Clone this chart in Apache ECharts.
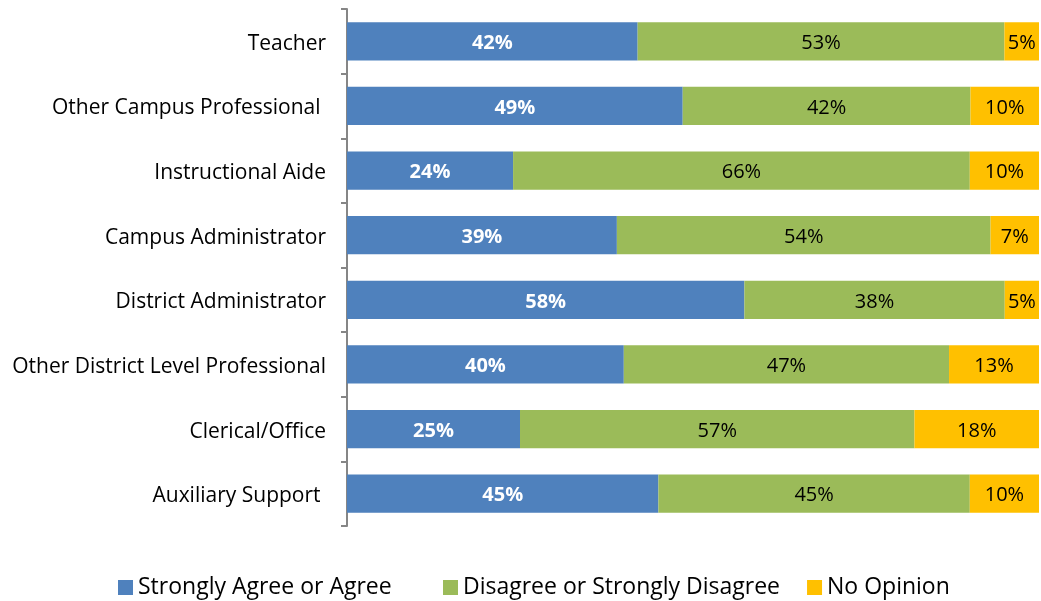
<!DOCTYPE html>
<html>
<head>
<meta charset="utf-8">
<script src="https://cdn.jsdelivr.net/npm/echarts@6/dist/echarts.min.js"></script>
<style>
  html, body { margin: 0; padding: 0; background: #fff; }
  #chart { width: 1041px; height: 601px; }
</style>
</head>
<body>
<div id="chart"></div>
<script>
// Survey roles, top to bottom
const roles = [
  'Teacher',
  'Other Campus Professional ',
  'Instructional Aide',
  'Campus Administrator',
  'District Administrator',
  'Other District Level Professional',
  'Clerical/Office',
  'Auxiliary Support '
];
const agree = [42, 49, 24, 39, 58, 40, 25, 45];
const disagree = [53, 42, 66, 54, 38, 47, 57, 45];
const noOpinion = [5, 10, 10, 7, 5, 13, 18, 10];

const seriesNames = ['Strongly Agree or Agree', 'Disagree or Strongly Disagree', 'No Opinion'];
const colors = ['#4F81BD', '#9BBB59', '#FFC000'];
const groups = [agree, disagree, noOpinion];

// each row is drawn as a share of its own total, labels keep the stated percentages
const totals = roles.map((_, i) => agree[i] + disagree[i] + noOpinion[i]);

const FONT = 'Open Sans';

// shared legend look; the first entry sits apart from the other two
const legendBase = {
  top: 571,
  itemWidth: 15,
  itemHeight: 15,
  itemGap: 27,
  icon: 'rect',
  textStyle: { fontSize: 23, color: '#000', fontFamily: FONT }
};

const chart = echarts.init(document.getElementById('chart'));
chart.setOption({
  animation: false,
  textStyle: { fontFamily: FONT },
  grid: { left: 347, right: 2, top: 9, bottom: 75, containLabel: false },
  legend: [
    Object.assign({}, legendBase, { left: 113, data: [seriesNames[0]] }),
    Object.assign({}, legendBase, { left: 438, data: [seriesNames[1], seriesNames[2]] })
  ],
  xAxis: {
    type: 'value',
    min: 0,
    max: 100,
    show: false
  },
  yAxis: {
    type: 'category',
    inverse: true,
    data: roles,
    axisLine: { show: true, lineStyle: { color: '#868686', width: 2 } },
    axisTick: { show: true, length: 6, lineStyle: { color: '#868686', width: 2 } },
    axisLabel: {
      margin: 21,
      formatter: v => '{r|' + v + '}',
      rich: { r: { fontSize: 21, color: '#000', fontFamily: FONT, padding: [5, 0, 0, 0] } }
    },
    splitLine: { show: false }
  },
  series: groups.map((vals, s) => ({
    name: seriesNames[s],
    type: 'bar',
    stack: 'all',
    barCategoryGap: '41%',
    itemStyle: { color: colors[s] },
    data: vals.map((v, i) => ({ value: v / totals[i] * 100, raw: v })),
    label: {
      show: true,
      position: 'inside',
      offset: [0, 2],
      fontFamily: FONT,
      fontSize: 20,
      color: s === 0 ? '#fff' : '#000',
      fontWeight: s === 0 ? 'bold' : 'normal',
      formatter: p => p.data.raw + '%'
    }
  }))
});
</script>
</body>
</html>
